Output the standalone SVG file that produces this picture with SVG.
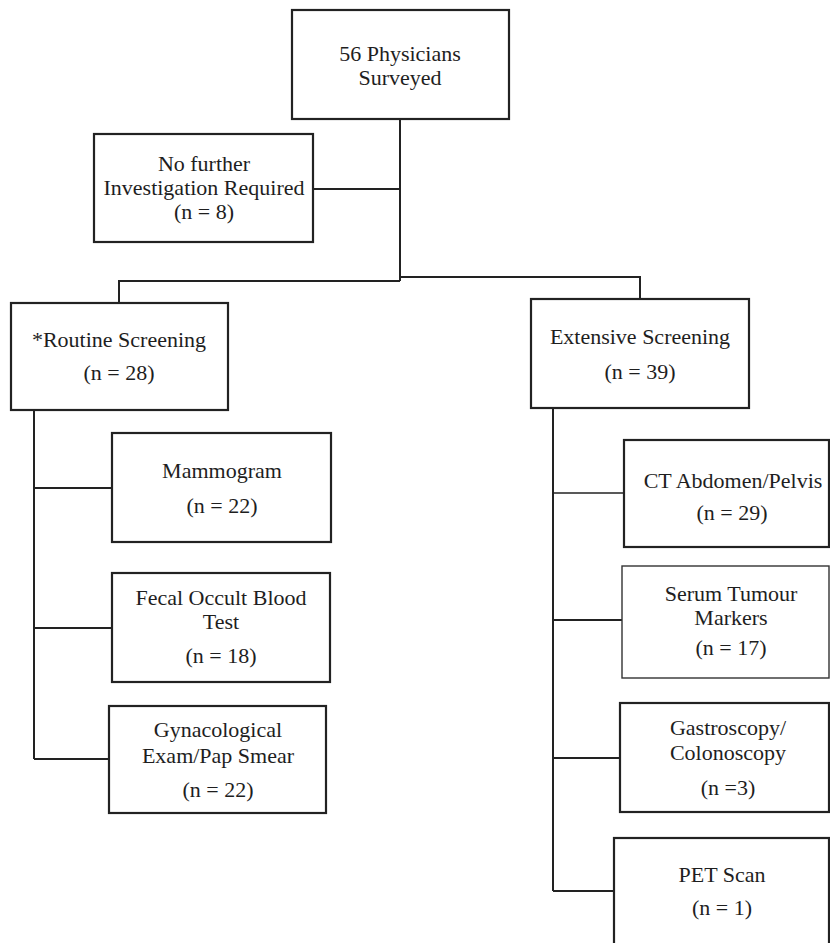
<svg xmlns="http://www.w3.org/2000/svg" width="830" height="943" viewBox="0 0 830 943">
<style>
.box{fill:#fff;stroke:#222;stroke-width:2.2}
.thin{fill:#fff;stroke:#333;stroke-width:1.4}
.ln{fill:none;stroke:#222;stroke-width:2}
.t{font-family:"Liberation Serif","Times New Roman","DejaVu Serif",serif;font-size:22px;fill:#1e1e1e;text-anchor:middle}
</style>
<rect width="830" height="943" fill="#fff"/>
<g id="connectors">
<path class="ln" d="M400,119 V281"/>
<path class="ln" d="M313,189 H400"/>
<path class="ln" d="M400,281 H119 V303"/>
<path class="ln" d="M400,277 H640 V299"/>
<path class="ln" d="M34,410 V759"/>
<path class="ln" d="M34,488 H112"/>
<path class="ln" d="M34,628 H112"/>
<path class="ln" d="M34,759 H109"/>
<path class="ln" d="M553,408 V891"/>
<path class="ln" d="M553,493 H624" style="stroke-width:1.3"/>
<path class="ln" d="M553,620 H622"/>
<path class="ln" d="M553,758 H620"/>
<path class="ln" d="M553,891 H614"/>
</g>
<g id="physicians">
<rect class="box" x="292" y="10" width="217" height="109"/>
<text class="t" x="400" y="61">56 Physicians</text>
<text class="t" x="400" y="85">Surveyed</text>
</g>
<g id="no-further">
<rect class="box" x="94" y="134" width="219" height="108"/>
<text class="t" x="204" y="171">No further</text>
<text class="t" x="204" y="195">Investigation Required</text>
<text class="t" x="204" y="219">(n = 8)</text>
</g>
<g id="routine">
<rect class="box" x="11" y="303" width="217" height="107"/>
<text class="t" x="119" y="347">*Routine Screening</text>
<text class="t" x="119" y="380">(n = 28)</text>
</g>
<g id="extensive">
<rect class="box" x="531" y="299" width="218" height="109"/>
<text class="t" x="640" y="344">Extensive Screening</text>
<text class="t" x="640" y="379">(n = 39)</text>
</g>
<g id="mammogram">
<rect class="box" x="112" y="433" width="219" height="109"/>
<text class="t" x="222" y="478">Mammogram</text>
<text class="t" x="222" y="513">(n = 22)</text>
</g>
<g id="fecal">
<rect class="box" x="112" y="573" width="218" height="109"/>
<text class="t" x="221" y="605">Fecal Occult Blood</text>
<text class="t" x="221" y="629">Test</text>
<text class="t" x="221" y="663">(n = 18)</text>
</g>
<g id="gyn">
<rect class="box" x="109" y="706" width="217" height="107"/>
<text class="t" x="218" y="737">Gynacological</text>
<text class="t" x="218" y="763">Exam/Pap Smear</text>
<text class="t" x="218" y="797">(n = 22)</text>
</g>
<g id="ct">
<rect class="box" x="624" y="440" width="205" height="107"/>
<text class="t" x="733" y="488">CT Abdomen/Pelvis</text>
<text class="t" x="732" y="520">(n = 29)</text>
</g>
<g id="serum">
<rect class="thin" x="622" y="566" width="207" height="112"/>
<text class="t" x="731" y="601">Serum Tumour</text>
<text class="t" x="731" y="625">Markers</text>
<text class="t" x="731" y="655">(n = 17)</text>
</g>
<g id="gastro">
<rect class="box" x="620" y="703" width="209" height="109"/>
<text class="t" x="728" y="735">Gastroscopy/</text>
<text class="t" x="728" y="760">Colonoscopy</text>
<text class="t" x="728" y="795">(n =3)</text>
</g>
<g id="pet">
<rect class="box" x="614" y="838" width="215" height="115"/>
<text class="t" x="722" y="882">PET Scan</text>
<text class="t" x="722" y="915">(n = 1)</text>
</g>
</svg>
